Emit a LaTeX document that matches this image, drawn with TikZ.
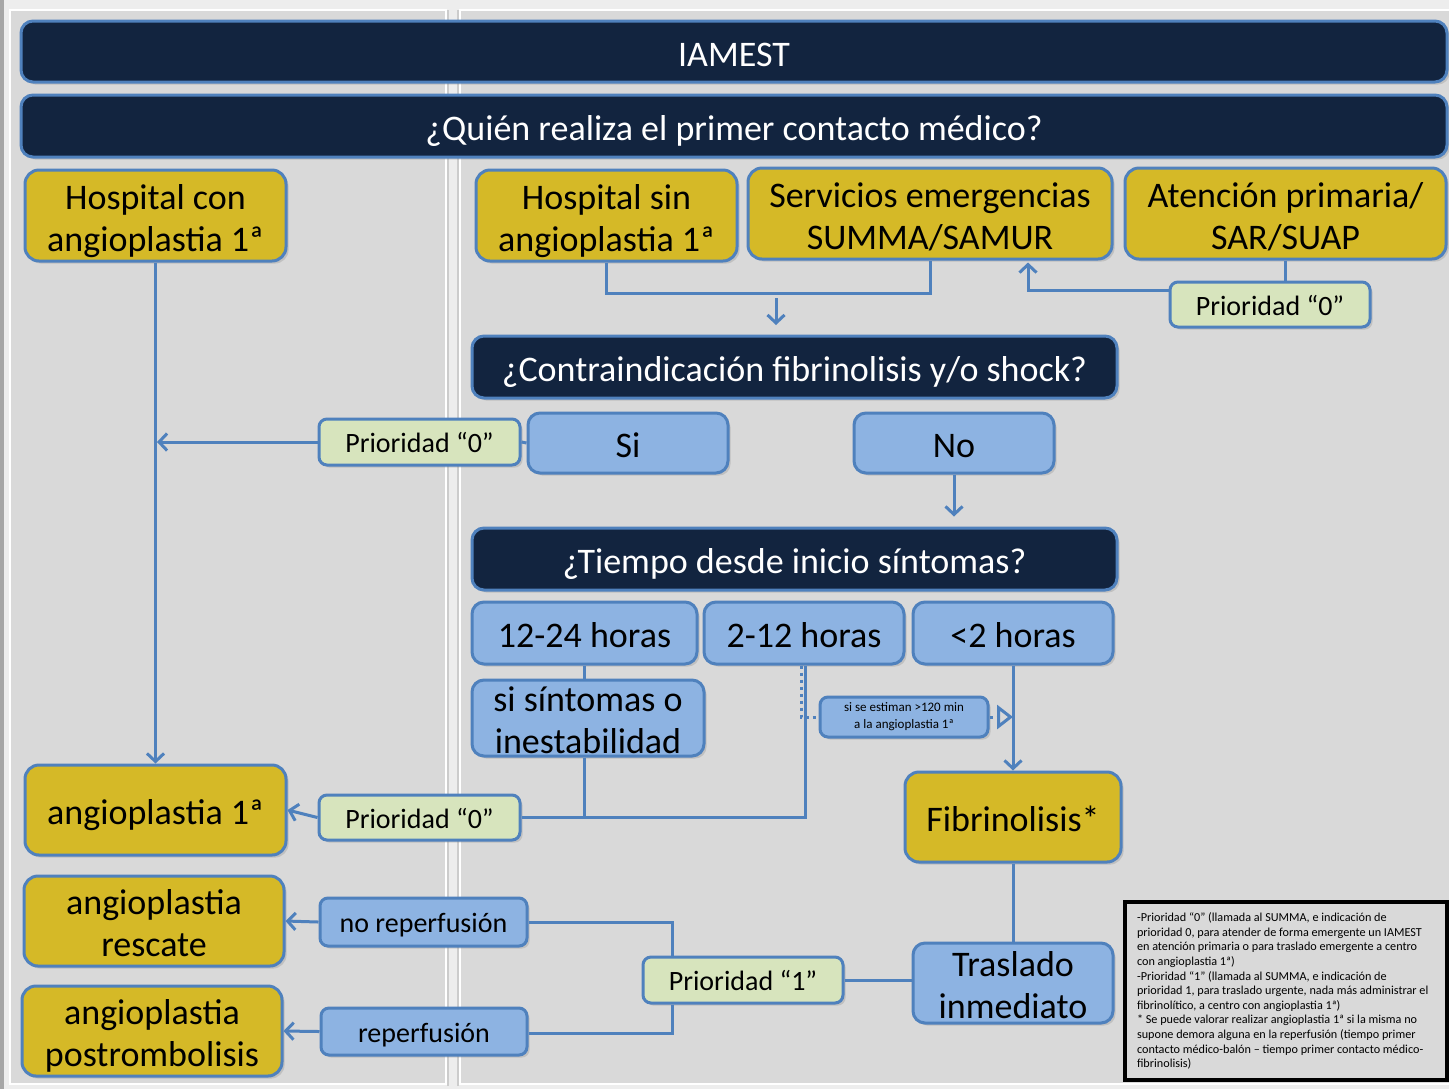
\documentclass[tikz,border=0pt]{standalone}
\usepackage{fontspec}
\setmainfont{Carlito}
\usetikzlibrary{arrows.meta,shadows}

\definecolor{navy}{HTML}{12243F}
\definecolor{bord}{HTML}{4F81BD}
\definecolor{gold}{HTML}{D5B927}
\definecolor{lblue}{HTML}{8DB3E2}
\definecolor{lgreen}{HTML}{D7E4BD}
\definecolor{panel}{HTML}{D9D9D9}

\tikzset{
  wh/.style 2 args={minimum width=#1*0.5pt, minimum height=#2*0.5pt},
  boxbase/.style={draw=bord, line width=1.5pt, inner sep=0pt, align=center,
    drop shadow={shadow xshift=1.3pt, shadow yshift=-1.3pt, opacity=0.28}},
  bigfont/.style={font=\fontsize{18}{21}\selectfont, text height=15pt, text depth=0.5pt},
  twolines/.style={text height=36pt, text depth=0.5pt},
  hdr/.style={boxbase, bigfont, fill=navy, text=white, rounded corners=6pt},
  goldbox/.style={boxbase, bigfont, fill=gold, rounded corners=7pt},
  bluebox/.style={boxbase, bigfont, fill=lblue, rounded corners=6pt},
  tagfont/.style={font=\fontsize{14}{16}\selectfont, text height=11pt, text depth=0.5pt},
  tagbox/.style={boxbase, tagfont, fill=lgreen, rounded corners=4pt},
  bluetag/.style={boxbase, tagfont, fill=lblue, rounded corners=4pt},
  conn/.style={draw=bord, line width=1.5pt},
  arr/.style={conn, -{Straight Barb[length=4pt,width=8.5pt]}},
}

\begin{document}
\begin{tikzpicture}[x=0.5pt, y=-0.5pt]
% page background and the two panels
\useasboundingbox (0,0) rectangle (1449,1089);
\fill[white!93!black] (0,0) rectangle (1449,1089);
\fill[black!35] (0,0) rectangle (4,1089);
\filldraw[fill=panel, draw=white, line width=1pt] (10,10) rectangle (446,1084);
\filldraw[fill=panel, draw=white, line width=1pt] (460,10) rectangle (1452,1084);
\draw[black!20, line width=0.6pt] (448,10) -- (448,1086);
\draw[black!20, line width=0.6pt] (458,10) -- (458,1086);

% headers
\node[hdr, wh={1426}{61}] (iam) at (734,51.5) {IAMEST};
\node[hdr, wh={1426}{62}] (quien) at (734,126) {¿Quién realiza el primer contacto médico?};

% first contact
\node[goldbox, twolines, wh={261}{91}] (hcon) at (155.5,215.5) {Hospital con\\angioplastia 1ª};
\node[goldbox, twolines, wh={261}{91}] (hsin) at (606.5,215.5) {Hospital sin\\angioplastia 1ª};
\node[goldbox, twolines, wh={364}{91}] (serv) at (930,213.5) {Servicios emergencias\\SUMMA/SAMUR};
\node[goldbox, twolines, wh={321}{91}] (aten) at (1285.5,213.5) {Atención primaria/\\SAR/SUAP};
\node[tagbox, wh={200}{45}] (p0a) at (1270,304.5) {Prioridad “0”};

% contraindication question
\node[hdr, wh={645}{62}] (contra) at (794.5,367) {¿Contraindicación fibrinolisis y/o shock?};
\node[bluebox, wh={200}{60}] (si) at (628,443) {Si};
\node[bluebox, wh={200}{60}] (no) at (954,443) {No};
\node[tagbox, wh={201}{46}] (p0b) at (419.5,442) {Prioridad “0”};

% time since onset
\node[hdr, wh={645}{62}] (tiempo) at (794.5,559) {¿Tiempo desde inicio síntomas?};
\node[bluebox, wh={225}{62}] (h1224) at (584.5,633) {12-24 horas};
\node[bluebox, wh={200}{62}] (h212) at (804,633) {2-12 horas};
\node[bluebox, wh={200}{62}] (h2) at (1013,633) {<2 horas};
\node[bluebox, twolines, wh={232}{76}] (sint) at (588,718) {si síntomas o\\inestabilidad};
\node[boxbase, fill=lblue, rounded corners=4pt, wh={168}{40},
      font=\fontsize{6.5}{8.5}\selectfont] (est) at (904,717)
      {si se estiman >120 min\\a la angioplastia 1ª};
\node[goldbox, wh={216}{90}] (fib) at (1013,817) {Fibrinolisis*};

% treatments
\node[goldbox, wh={261}{90}] (a1) at (155.5,810) {angioplastia 1ª};
\node[tagbox, wh={201}{45}] (p0c) at (419.5,817.5) {Prioridad “0”};
\node[goldbox, twolines, wh={260}{90}] (resc) at (154,921) {angioplastia\\rescate};
\node[goldbox, twolines, wh={260}{90}] (post) at (152,1031) {angioplastia\\postrombolisis};
\node[bluetag, wh={207}{48}] (noref) at (423.5,922) {no reperfusión};
\node[bluetag, wh={206}{47}] (ref) at (424,1031.5) {reperfusión};
\node[bluebox, twolines, wh={200}{80}] (tras) at (1013,983) {Traslado\\inmediato};
\node[tagbox, wh={200}{46}] (p1) at (743,980) {Prioridad “1”};

% notes
\node[draw=black, line width=1.6pt, fill=panel, wh={322}{178}, inner sep=0pt,
      align=left, font=\fontsize{6.1}{7.3}\selectfont] (note) at (1286,991)
{\parbox{149pt}{\raggedright
-Prioridad “0” (llamada al SUMMA, e indicación de\\
prioridad 0, para atender de forma emergente un IAMEST\\
en atención primaria o para traslado emergente a centro\\
con angioplastia 1ª)\\
-Prioridad “1” (llamada al SUMMA, e indicación de\\
prioridad 1, para traslado urgente, nada más administrar el\\
fibrinolítico, a centro con angioplastia 1ª)\\
\relax* Se puede valorar realizar angioplastia 1ª si la misma no\\
supone demora alguna en la reperfusión (tiempo primer\\
contacto médico-balón – tiempo primer contacto médico-\\
fibrinolisis)}};

% connectors: first contact
\draw[arr] (hcon.south) -- (a1.north);
\coordinate (bk) at (930,293);
\draw[conn] (hsin.south) |- (bk) -- (serv.south);
\coordinate (dn1) at (776,298);
\coordinate (dn2) at (776,325);
\draw[arr] (dn1) -- (dn2);
\draw[conn] (aten.south) -- (aten.south |- p0a.north);
\coordinate (up) at (1028,290);
\draw[arr, shorten >=1pt] (p0a.west |- up) -- (up) -- (serv.south -| up);

% connectors: contraindication
\coordinate (lj) at (157,442);
\draw[arr] (p0b.west) -- (lj);
\draw[conn] (p0b.east) -- (si.west);
\draw[arr, shorten >=5pt] (no.south) -- (no.south |- tiempo.north);

% connectors: time since onset
\draw[conn] (h1224.south) -- (h1224.south |- sint.north);
\draw[conn] (h1224.south |- sint.south) |- (p0c.east);
\draw[conn] ([xshift=0.6pt]h212.south) |- (p0c.east);
\draw[conn, dotted] ([xshift=-1.4pt]h212.south) |- (est.west);
\draw[conn, dotted, -{Triangle[open, length=8pt, width=12pt]}] (est.east) -- (h2.south |- est.east);
\draw[arr] (h2.south) -- (fib.north);
\draw[arr] (p0c.west) -- (a1.east);

% connectors: fibrinolysis outcome
\draw[conn] (fib.south) -- (tras.north);
\draw[conn] (p1.east) -- (p1.east -| tras.west);
\coordinate (vt) at (672,922);
\coordinate (vb) at (672,1033);
\draw[conn] (vt |- p1.north) -- (vt) -- (noref.east);
\draw[conn] (vb |- p1.south) -- (vb) -- (ref.east |- vb);
\draw[arr] (noref.west) -- (resc.east);
\draw[arr] (ref.west) -- (post.east);
\end{tikzpicture}
\end{document}
